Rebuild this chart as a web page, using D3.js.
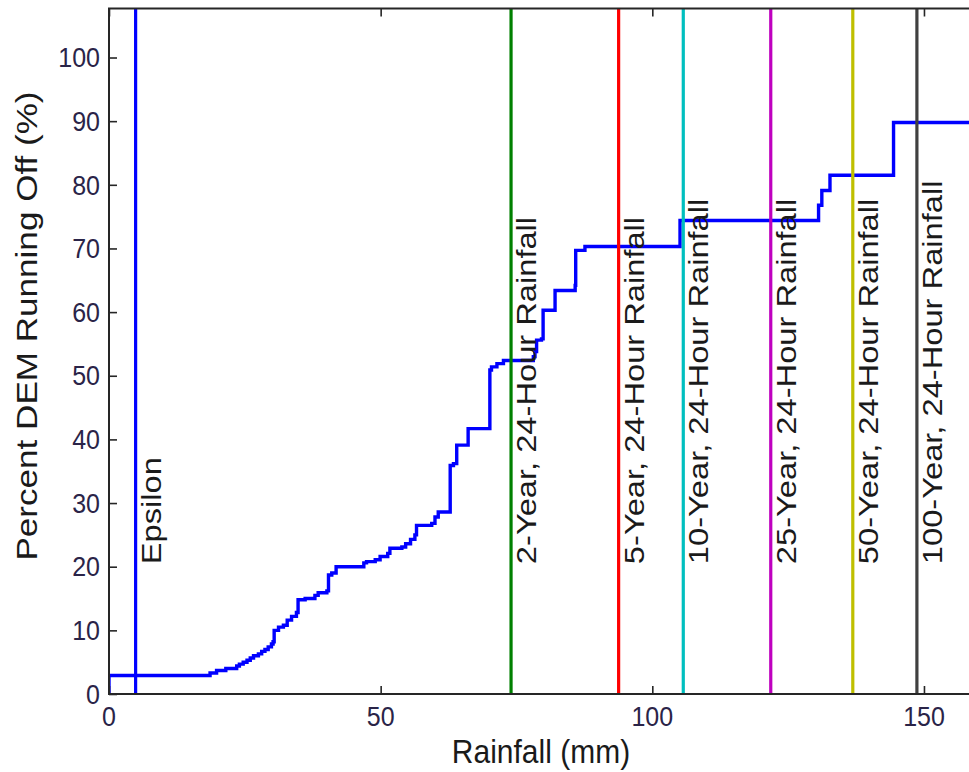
<!DOCTYPE html>
<html>
<head>
<meta charset="utf-8">
<script src="https://cdn.jsdelivr.net/npm/d3@7"></script>
<style>
  body { margin: 0; background: #fff; }
  svg { display: block; }
  text { font-family: "Liberation Sans", Arial, sans-serif; }
</style>
</head>
<body>
<svg id="chart" width="969" height="772"></svg>
<script>
// Cumulative share of the DEM producing runoff, as a step curve over rainfall depth
const rainfall = [0, 0, 18.6, 19.8, 21.5, 23.5, 24.0, 24.7, 25.4, 26.0, 26.6, 27.5, 28.1, 28.7, 29.3, 29.9, 30.2,
  30.4, 31.2, 32.1, 32.8, 33.6, 34.5, 34.8, 36.1, 37.9, 38.5, 40.1, 40.4, 41.0, 41.8, 46.9, 47.4, 49.0,
  49.9, 51.3, 51.7, 53.9, 54.6, 55.5, 56.3, 56.6, 59.4, 60.0, 60.6, 62.8, 63.4, 64.0, 66.1, 70.1, 70.4,
  71.4, 72.6, 78.1, 78.4, 78.7, 79.6, 79.9, 82.1, 85.8, 85.9, 87.6, 105.1, 130.6, 131.2, 132.7, 144.4, 160];
const percentOff = [0, 2.9, 3.3, 3.7, 4.0, 4.4, 4.7, 5.0, 5.3, 5.65, 6.0, 6.3, 6.7, 7.0, 7.4, 7.85, 8.2,
  10.0, 10.5, 10.8, 11.6, 12.2, 12.8, 14.8, 15.0, 15.5, 15.9, 16.2, 18.7, 19.0, 20.0, 20.6, 20.8, 21.1,
  21.6, 22.1, 22.9, 23.1, 23.6, 24.3, 25.0, 26.5, 26.8, 27.8, 28.6, 35.9, 36.2, 39.1, 41.7, 50.9, 51.4,
  51.9, 52.4, 53.0, 53.8, 55.6, 55.8, 60.3, 63.4, 64.2, 69.7, 70.3, 74.4, 76.8, 79.1, 81.5, 89.8, 89.8];

// Reference rainfall depths (mm) marked as vertical lines
const thresholdNames = ["Epsilon", "2-Year, 24-Hour Rainfall", "5-Year, 24-Hour Rainfall",
  "10-Year, 24-Hour Rainfall", "25-Year, 24-Hour Rainfall", "50-Year, 24-Hour Rainfall",
  "100-Year, 24-Hour Rainfall"];
const thresholdRain = [4.9, 74.0, 93.8, 105.7, 121.8, 136.9, 148.7];
const thresholdColors = ["#0000ff", "#008000", "#ff0000", "#00bfbf", "#bf00bf", "#bfbf00", "#404040"];

const xTickValues = [0, 50, 100, 150];
const yTickValues = [0, 10, 20, 30, 40, 50, 60, 70, 80, 90, 100];
const xDomain = [0, 160];
const yDomain = [0, 107.7];

const svg = d3.select("#chart");
const plot = { left: 109, right: 978.3, top: 8.5, bottom: 694 };
const x = d3.scaleLinear().domain(xDomain).range([plot.left, plot.right]);
const y = d3.scaleLinear().domain(yDomain).range([plot.bottom, plot.top]);

const axisColor = "#262626";
const tickTextColor = "#2a2448";
const textColor = "#1a1a1a";
const tickLen = 8;
const stretch = 1.21;   // glyphs are drawn a little taller than wide

svg.append("defs").append("clipPath").attr("id", "plotClip")
  .append("rect")
  .attr("x", plot.left).attr("y", plot.top)
  .attr("width", plot.right - plot.left).attr("height", plot.bottom - plot.top);

// Runoff curve
const pts = rainfall.map((r, i) => [r, percentOff[i]]);
svg.append("path")
  .datum(pts)
  .attr("clip-path", "url(#plotClip)")
  .attr("fill", "none")
  .attr("stroke", "#0000ff")
  .attr("stroke-width", 3.4)
  .attr("d", d3.line().x(d => x(d[0])).y(d => y(d[1])).curve(d3.curveStepAfter));

// Threshold lines
const thr = thresholdRain.map((r, i) => ({ r, name: thresholdNames[i], color: thresholdColors[i] }));
svg.append("g").attr("clip-path", "url(#plotClip)")
  .selectAll("line").data(thr).join("line")
  .attr("x1", d => x(d.r)).attr("x2", d => x(d.r))
  .attr("y1", y(yDomain[0])).attr("y2", y(yDomain[1]))
  .attr("stroke", d => d.color)
  .attr("stroke-width", 3.2);

// Threshold labels, written upward beside each line
const labelY = 20.4;
svg.append("g").selectAll("text").data(thr).join("text")
  .attr("transform", d => `translate(${x(d.r) + 25},${y(labelY)}) scale(1,${stretch}) rotate(-90)`)
  .attr("text-anchor", "start")
  .attr("font-size", 27)
  .attr("fill", textColor)
  .text(d => d.name);

// Axes with inward ticks on all four sides
function styleAxis(g) {
  g.select(".domain").remove();
  g.selectAll(".tick line").attr("stroke", axisColor).attr("stroke-width", 1.6);
}
svg.append("g").attr("transform", `translate(0,${plot.bottom})`)
  .call(d3.axisBottom(x).tickValues(xTickValues).tickFormat("")
    .tickSizeInner(-tickLen).tickSizeOuter(0))
  .call(styleAxis);
svg.append("g").attr("transform", `translate(0,${plot.top})`)
  .call(d3.axisTop(x).tickValues(xTickValues).tickFormat("")
    .tickSizeInner(-tickLen).tickSizeOuter(0))
  .call(styleAxis);
svg.append("g").attr("transform", `translate(${plot.left},0)`)
  .call(d3.axisLeft(y).tickValues(yTickValues).tickFormat("")
    .tickSizeInner(-tickLen).tickSizeOuter(0))
  .call(styleAxis);
svg.append("g").attr("transform", `translate(${plot.right},0)`)
  .call(d3.axisRight(y).tickValues(yTickValues).tickFormat("")
    .tickSizeInner(-tickLen).tickSizeOuter(0))
  .call(styleAxis);

// Tick labels (drawn separately so they can carry the same vertical stretch)
const tickFont = 25;
const tickStretch = 1.08;
svg.append("g").selectAll("text").data(xTickValues).join("text")
  .attr("transform", d => `translate(${x(d)},726) scale(1,${tickStretch})`)
  .attr("text-anchor", "middle").attr("font-size", tickFont).attr("fill", tickTextColor)
  .text(d3.format("d"));
svg.append("g").selectAll("text").data(yTickValues).join("text")
  .attr("transform", d => `translate(${plot.left - 9},${y(d)}) scale(1,${tickStretch})`)
  .attr("text-anchor", "end").attr("dy", "0.36em")
  .attr("font-size", tickFont).attr("fill", tickTextColor)
  .text(d3.format("d"));

// Axes box
svg.append("rect")
  .attr("x", plot.left).attr("y", plot.top)
  .attr("width", plot.right - plot.left).attr("height", plot.bottom - plot.top)
  .attr("fill", "none").attr("stroke", axisColor).attr("stroke-width", 2);

// Axis titles
svg.append("text")
  .attr("transform", `translate(541,763) scale(1,1.12)`)
  .attr("text-anchor", "middle").attr("font-size", 30).attr("fill", textColor)
  .text("Rainfall (mm)");
svg.append("text")
  .attr("transform", `translate(37,326) scale(1,${stretch}) rotate(-90)`)
  .attr("text-anchor", "middle").attr("font-size", 29).attr("fill", textColor)
  .text("Percent DEM Running Off (%)");
</script>
</body>
</html>
